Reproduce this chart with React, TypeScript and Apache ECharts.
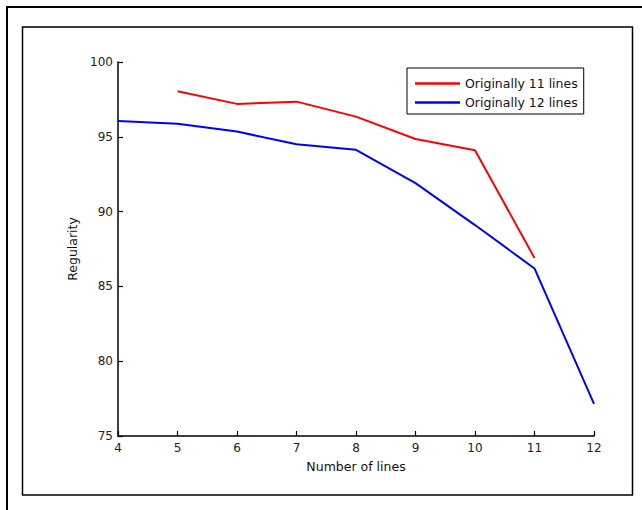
import React, { useEffect, useRef } from "react";
import * as echarts from "echarts";

const xValues = [4, 5, 6, 7, 8, 9, 10, 11, 12];
const originally11 = [null, 98.05, 97.2, 97.35, 96.35, 94.85, 94.1, 86.9, null];
const originally12 = [96.05, 95.87, 95.35, 94.5, 94.13, 91.9, 89.1, 86.2, 77.15];
const seriesNames = ["Originally 11 lines", "Originally 12 lines"];
const xTicks = [4, 5, 6, 7, 8, 9, 10, 11, 12];
const yTicks = [75, 80, 85, 90, 95, 100];

const FONT = "DejaVu Sans";

export default function App() {
  const ref = useRef<HTMLDivElement>(null);
  useEffect(() => {
    if (!ref.current) return;
    const chart = echarts.init(ref.current, null, { renderer: "svg" });
    const toPairs = (vals: (number | null)[]) =>
      xValues.map((x, i) => [x, vals[i]]).filter((p) => p[1] !== null);
    chart.setOption({
      animation: false,
      backgroundColor: "#fff",
      textStyle: { fontFamily: FONT },
      grid: { left: 118, right: 48, top: 62, bottom: 74, containLabel: false },
      legend: {
        orient: "vertical",
        left: 407,
        top: 68,
        padding: [9, 6, 5, 8],
        borderColor: "#000",
        borderWidth: 1,
        backgroundColor: "#fff",
        icon: "rect",
        itemWidth: 45,
        itemHeight: 2.5,
        itemGap: 6,
        textStyle: { fontFamily: FONT, fontSize: 12.5, color: "#111" },
        data: seriesNames,
      },
      xAxis: {
        type: "value",
        min: xTicks[0],
        max: xTicks[xTicks.length - 1],
        interval: 1,
        name: "Number of lines",
        nameLocation: "middle",
        nameGap: 24,
        nameTextStyle: { fontFamily: FONT, fontSize: 12.5, color: "#111" },
        axisLine: { lineStyle: { color: "#000", width: 1.5 } },
        axisTick: { inside: true, length: 5, lineStyle: { color: "#000", width: 1.2 } },
        axisLabel: { fontFamily: FONT, fontSize: 12, color: "#222", margin: 6 },
        splitLine: { show: false },
      },
      yAxis: {
        type: "value",
        min: yTicks[0],
        max: yTicks[yTicks.length - 1],
        interval: 5,
        name: "Regularity",
        nameLocation: "middle",
        nameGap: 34,
        nameTextStyle: { fontFamily: FONT, fontSize: 12.5, color: "#111" },
        axisLine: { show: true, lineStyle: { color: "#000", width: 1.5 } },
        axisTick: { show: true, inside: true, length: 5, lineStyle: { color: "#000", width: 1.2 } },
        axisLabel: { fontFamily: FONT, fontSize: 12, color: "#222", margin: 5 },
        splitLine: { show: false },
      },
      graphic: [
        {
          type: "rect",
          shape: { x: 7, y: 7, width: 700, height: 600 },
          style: { fill: "none", stroke: "#000", lineWidth: 2 },
          silent: true,
        },
        {
          type: "rect",
          shape: { x: 22.5, y: 27, width: 610, height: 468 },
          style: { fill: "none", stroke: "#000", lineWidth: 1.5 },
          silent: true,
        },
      ],
      series: [
        {
          name: seriesNames[0],
          type: "line",
          data: toPairs(originally11),
          showSymbol: false,
          symbol: "none",
          color: "#ff0000",
          lineStyle: { color: "#ff0000", width: 2 },
        },
        {
          name: seriesNames[1],
          type: "line",
          data: toPairs(originally12),
          showSymbol: false,
          symbol: "none",
          color: "#0000ff",
          lineStyle: { color: "#0000ff", width: 2 },
        },
      ],
    });
    return () => chart.dispose();
  }, []);
  return (
    <div
      ref={ref}
      style={{ position: "absolute", left: 0, top: 0, width: 642, height: 510 }}
    />
  );
}
